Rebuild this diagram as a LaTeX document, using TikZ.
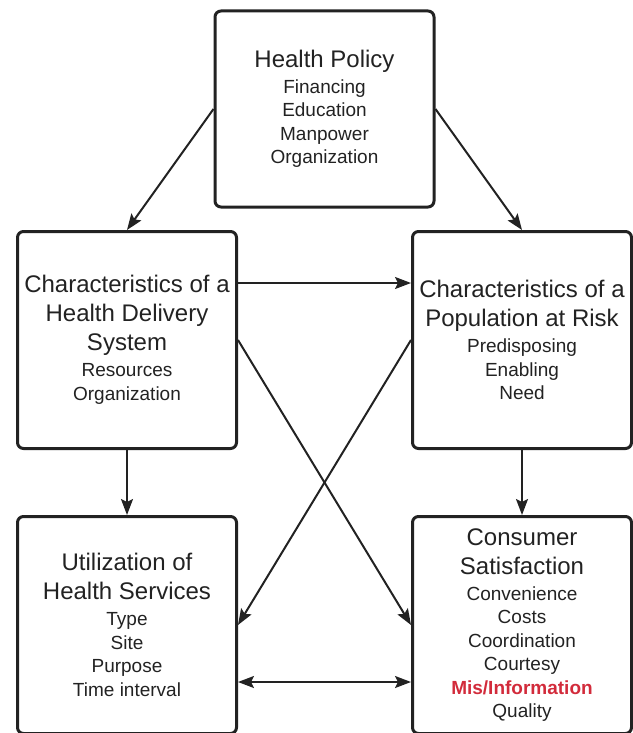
\documentclass[tikz,border=0pt]{standalone}
\usepackage{fontspec}
\setmainfont{Liberation Sans}
\usepackage{tikz}
\usetikzlibrary{arrows.meta,positioning,calc}
\usepackage{xcolor}
\definecolor{ink}{HTML}{222222}
\definecolor{misred}{HTML}{D22B3B}
\newcommand{\ttl}[1]{{\fontsize{24}{29}\selectfont #1}}

\begin{document}
\begin{tikzpicture}[
        x=1pt, y=1pt,
        node distance=65pt and 173pt,
        box/.style={draw=ink,line width=3pt,rounded corners=6pt,minimum width=219pt,minimum height=217pt,
          align=center,text=ink,font=\fontsize{19}{23.5}\selectfont},
        arr/.style={draw=ink,line width=2pt,-{Stealth[length=16pt,width=12pt,inset=3pt]}}
      ]
      \useasboundingbox (0,0) rectangle (632,-733);
      \node[box] (deliv) at (127,-340) {\ttl{Characteristics of a}\\[5.5pt]\ttl{Health Delivery}\\[5.5pt]\ttl{System}\\[2.5pt]Resources\\Organization};
      \node[box,right=of deliv] (pop) {\ttl{Characteristics of a}\\[5.5pt]\ttl{Population at Risk}\\[2.5pt]Predisposing\\Enabling\\Need};
      \node[box,minimum height=196pt,above=21.5pt of $(deliv.north)!0.5!(pop.north)$] (hp) {\ttl{Health Policy}\\[2.5pt]Financing\\Education\\Manpower\\Organization};
      \node[box,below=of deliv] (util) {\ttl{Utilization of}\\[5.5pt]\ttl{Health Services}\\[2.5pt]Type\\Site\\Purpose\\Time interval};
      \node[box,below=of pop] (sat) {\ttl{Consumer}\\[5.5pt]\ttl{Satisfaction}\\[2.5pt]Convenience\\Costs\\Coordination\\Courtesy\\\textcolor{misred}{\bfseries Mis/Information}\\Quality};

      \draw[arr] (hp.west) -- (deliv.north);
      \draw[arr] (hp.east) -- (pop.north);
      \draw[arr] ([yshift=57pt]deliv.east) -- ([yshift=57pt]pop.west);
      \draw[arr] (deliv.east) -- (sat.west);
      \draw[arr] (pop.west) -- (util.east);
      \draw[arr] (deliv.south) -- (util.north);
      \draw[arr] (pop.south) -- (sat.north);
      \draw[arr,{Stealth[length=16pt,width=12pt,inset=3pt]}-{Stealth[length=16pt,width=12pt,inset=3pt]}] ([yshift=-57pt]util.east) -- ([yshift=-57pt]sat.west);
    \end{tikzpicture}
\end{document}
